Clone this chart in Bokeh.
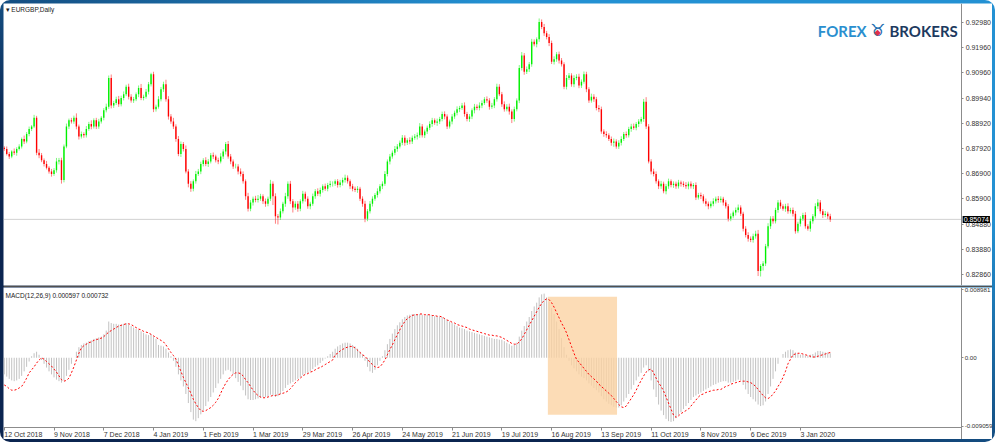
from bokeh.plotting import figure
from bokeh.layouts import column
from bokeh.models import (ColumnDataSource, FixedTicker, Range1d, Label,
                          BoxAnnotation, CustomJSTickFormatter)
from bokeh.embed import file_html
from bokeh.resources import INLINE

# ---------------- data (prices in 1e-4 units, MACD in 1e-4 units) ----------------
pair_title = "EURGBP,Daily"
macd_title = "MACD(12,26,9) 0.000597 0.000732"
first_open = 8795

close_pips = [
    8790, 8770, 8760, 8780, 8775, 8790, 8800, 8830, 8820, 8850, 8870, 8880, 8915, 8775,
    8765, 8745, 8730, 8715, 8700, 8690, 8705, 8740, 8745, 8665,
    8800, 8880, 8905, 8900, 8915, 8880, 8840,
    8850, 8845, 8870, 8890, 8880, 8905, 8880, 8900,
    8915, 8945, 8960, 9075, 8965,
    8975, 8990, 8970, 8995, 9010,
    9040, 9000, 8985, 8990, 9010,
    9035, 8995, 9000, 9020, 9050,
    9090, 8950, 8960,
    8990, 9030, 9050, 8990, 8920, 8900, 8880,
    8830, 8770, 8810, 8790, 8700, 8650, 8630,
    8660, 8690, 8700, 8730, 8745, 8730, 8740,
    8765, 8760, 8745, 8740, 8760, 8780, 8810, 8760, 8740, 8720,
    8720, 8700, 8690, 8660, 8600, 8550,
    8575, 8590, 8585, 8590, 8600, 8580, 8570, 8590,
    8650, 8600, 8520, 8515, 8540, 8570,
    8600, 8650, 8580, 8555, 8570, 8550,
    8580, 8610, 8590, 8560,
    8570, 8600, 8620, 8610, 8625, 8640, 8630, 8645, 8650,
    8650, 8660, 8645, 8655, 8665, 8675, 8660,
    8640, 8630, 8625, 8630, 8590, 8570, 8510,
    8540, 8570, 8590, 8605, 8620, 8640, 8650, 8690, 8740, 8760, 8775, 8790, 8800, 8815,
    8835, 8815, 8825, 8820, 8835, 8840, 8845, 8880, 8845, 8860, 8875, 8890,
    8905, 8895, 8900, 8910, 8930, 8920, 8880,
    8900, 8920, 8935, 8950, 8955, 8965, 8930, 8910, 8920,
    8945, 8960, 8955, 8965, 8975, 8990, 8985, 8960, 8965, 8990, 9040,
    9010, 8970, 8950, 8960, 8940, 8910, 8950, 8985,
    9115, 9165, 9100, 9110, 9130, 9220, 9210, 9230, 9300,
    9280, 9255, 9240, 9215, 9140, 9150, 9170, 9145, 9130, 9040,
    9075, 9085, 9050, 9075, 9080, 9045, 9060, 9090, 9030, 8985,
    9000, 8990, 8955, 8950, 8860, 8850, 8845, 8830, 8815, 8820, 8800, 8815,
    8830, 8850, 8845, 8870, 8880, 8875, 8890, 8900, 8910, 8980,
    8880, 8740, 8700, 8690, 8660, 8640,
    8650, 8620, 8640, 8660, 8645, 8650, 8640, 8655, 8650, 8645, 8640, 8650, 8640, 8645,
    8595, 8605, 8600, 8580, 8570, 8560, 8570, 8580, 8590, 8585, 8590, 8575,
    8560, 8510, 8520, 8535, 8545, 8555, 8530, 8470,
    8445, 8430, 8425, 8440, 8450, 8300, 8320, 8330, 8400, 8480, 8510, 8500, 8545, 8575,
    8560, 8550, 8560, 8540, 8545, 8530, 8460, 8490, 8510, 8525,
    8480, 8470, 8500, 8520, 8560, 8575, 8540, 8525, 8530, 8520, 8507,
]

wick_up = [
    6, 10, 8, 5, 12, 7, 9, 6, 14, 8, 10, 6, 12, 8, 15, 9, 7, 12, 6, 10,
    8, 14, 9, 10, 8, 12, 7, 10, 9, 18, 8, 10, 7, 12, 9, 15, 8, 10, 11, 7,
    9, 12, 10, 14, 8, 10, 13, 9, 11, 8, 12, 10, 9, 7, 10, 16, 8, 11, 9, 6,
    10, 8, 12, 9, 10, 18, 12, 10, 15, 9, 12, 10, 8, 14, 9, 11, 8, 12, 10, 9,
    8, 12, 10, 9, 11, 7, 10, 13, 9, 8, 12, 10, 8, 11, 9, 12, 10, 8, 14, 10,
    9, 12, 15, 10, 8, 11, 9, 16, 10, 12, 9, 11, 8, 14, 10, 12, 9, 10, 11, 8,
    12, 9, 10, 8, 11, 9, 12, 10, 8, 11, 9, 12, 10, 8, 9, 11, 10, 12, 9, 8,
    10, 9, 11, 8, 10, 12, 9, 11, 10, 8, 12, 9, 10, 11, 8, 10, 9, 12, 10, 9,
    11, 10, 8, 12, 9, 10, 11, 14, 10, 8, 9, 11, 10, 8, 12, 9, 10, 11, 9, 8,
    10, 9, 11, 8, 10, 12, 9, 10, 8, 11, 9, 12, 10, 8, 11, 9, 10, 8, 12, 10,
    9, 11, 10, 12, 9, 10, 8, 12, 14, 10, 11, 9, 12, 10, 8, 14, 10, 12, 9, 11,
    10, 12, 9, 11, 10, 8, 12, 10, 9, 11, 10, 12, 9, 11, 10, 8, 12, 10, 9, 11,
    10, 9, 11, 8, 10, 12, 9, 10, 11, 8, 10, 9, 11, 12, 8, 10, 9, 11, 18, 10,
    9, 11, 10, 8, 12, 9, 10, 11, 8, 10, 9, 11, 8, 10, 12, 9, 10, 8, 11, 9,
    10, 8, 11, 9, 10, 12, 9, 11, 10, 8, 10, 9, 11, 8, 10, 12, 9, 8, 10, 11,
    9, 10, 12, 15, 8, 10, 9, 12, 10, 11, 9, 10, 11, 8, 10, 12, 9, 10, 11, 8,
    10, 9, 11, 8, 10, 9, 12, 14, 10, 9, 11, 8, 10,
]

wick_dn = [
    8, 6, 10, 7, 9, 12, 6, 8, 10, 7, 9, 8, 6, 10, 12, 8, 10, 7, 9, 11,
    8, 10, 12, 14, 9, 7, 10, 8, 9, 11, 12, 8, 10, 9, 7, 11, 8, 10, 9, 8,
    10, 8, 9, 12, 10, 8, 11, 9, 10, 8, 11, 9, 10, 8, 12, 9, 10, 8, 11, 9,
    12, 10, 8, 9, 11, 10, 12, 9, 10, 11, 9, 12, 10, 8, 14, 12, 10, 9, 8, 11,
    10, 9, 12, 8, 10, 9, 11, 8, 10, 12, 9, 11, 10, 8, 12, 10, 9, 14, 11, 10,
    12, 9, 10, 8, 11, 12, 10, 9, 35, 30, 28, 10, 9, 12, 10, 11, 20, 9, 12, 10,
    9, 11, 10, 12, 8, 10, 9, 11, 10, 8, 10, 9, 11, 8, 10, 9, 12, 10, 9, 11,
    10, 8, 11, 9, 12, 14, 10, 9, 11, 8, 10, 9, 11, 8, 10, 12, 9, 10, 11, 8,
    10, 12, 9, 11, 10, 8, 12, 10, 9, 11, 10, 9, 11, 8, 12, 10, 9, 11, 10, 8,
    11, 9, 10, 12, 8, 10, 9, 11, 10, 12, 9, 10, 11, 8, 10, 12, 9, 11, 10, 8,
    11, 10, 9, 12, 16, 10, 9, 11, 10, 12, 9, 11, 10, 8, 12, 10, 9, 11, 10, 12,
    9, 11, 10, 12, 9, 10, 11, 8, 10, 12, 9, 11, 10, 8, 12, 10, 9, 11, 10, 12,
    9, 11, 10, 8, 12, 16, 9, 10, 11, 8, 10, 9, 11, 8, 10, 12, 9, 11, 10, 8,
    12, 10, 9, 11, 10, 8, 12, 10, 9, 11, 10, 9, 11, 8, 10, 12, 9, 11, 10, 8,
    11, 9, 10, 12, 8, 10, 9, 11, 10, 12, 9, 11, 10, 8, 12, 10, 9, 11, 10, 12,
    9, 11, 10, 20, 22, 18, 10, 9, 11, 10, 9, 11, 10, 8, 12, 10, 9, 11, 10, 8,
    11, 9, 10, 8, 12, 10, 9, 11, 10, 12, 9, 11, 10,
]

macd_main = [
    -22, -25, -28, -30, -31, -30, -28, -24, -18, -12, -5, 2,
    6, 8, 4,
    -3, -8, -13, -18, -22, -26, -29, -31, -33, -30, -24, -16,
    -8, 0, 8, 14, 17,
    19, 20, 22, 23, 25, 26, 27, 28, 31, 36, 48,
    46, 45, 45, 44, 44, 45, 46, 44,
    42, 40, 38, 37, 35, 33, 31, 30, 31, 28, 25, 17, 16, 15, 12, 7,
    2, -4, -12, -22, -30, -38, -48, -60, -72, -82,
    -84, -80, -75, -70,
    -64, -58, -52, -46, -40, -34, -28, -22, -17, -16,
    -18, -22, -27, -32, -37, -43, -50, -55, -56,
    -56, -55, -54, -53, -52, -52, -51, -49, -50, -52, -51, -48, -44, -40,
    -36, -34, -32, -30, -28, -26, -23, -21, -20, -18, -15, -12, -10, -7, -4, -1, 2, 5, 8,
    12, 15, 17, 19, 20, 20, 19, 17, 15, 12, 8, 4, -4,
    -12, -18, -20, -16, -10, -4, 2, 10, 18, 25,
    32, 38, 43, 47, 51, 54, 56, 57,
    58, 58, 57, 58, 57, 56, 57, 57, 56, 55, 55, 54, 54,
    52, 50, 48, 46, 44, 42, 40, 39, 38, 36, 35, 34, 33, 32, 31, 30, 29, 28, 27, 26, 25, 25, 24,
    24, 22, 20, 18, 16, 17, 20, 28,
    36, 42, 48, 54, 62, 68, 73, 80, 84, 85,
    80, 74, 66, 58, 48, 38, 26, 14, 4,
    -4, -10, -14, -18, -22, -25, -27, -30, -34, -37, -40, -43, -46, -51, -55, -58, -61, -63, -65, -66, -66,
    -63, -58, -53, -48, -42, -36, -30, -25, -20, -13, -10,
    -18, -30, -42, -52, -62,
    -70, -76, -81, -84, -85, -84,
    -80, -76, -72, -68, -64, -60, -56, -52, -50, -48, -46,
    -44, -42, -40, -38, -36, -35, -33, -32, -31, -31, -33, -33, -32, -31, -29, -30,
    -36, -42, -48, -52, -55, -58, -62, -64, -63,
    -58, -48, -38, -28, -18, -8, 0,
    5, 8, 10, 11,
    10, 7, 5, 4, 4, 3, 3, 4, 5,
    7, 9, 9, 8, 7, 7, 6,
]

macd_signal = [
    -36, -38, -41, -43, -43, -42, -40, -38, -33, -27,
    -20, -16, -12, -7, -3, 0, -2, -5, -8, -11,
    -15, -19, -24, -29, -31, -30, -27, -20, -12, -3,
    6, 13, 16, 18, 20, 21, 23, 24, 25, 26,
    28, 31, 34, 36, 38, 40, 42, 43, 44, 45,
    45, 44, 42, 40, 38, 37, 35, 34, 33, 31,
    29, 27, 25, 23, 21, 17, 12, 7, 3, -2,
    -10, -18, -26, -33, -40, -47, -55, -61, -66, -70,
    -71, -70, -68, -66, -63, -59, -54, -47, -40, -34,
    -29, -25, -22, -20, -20, -21, -24, -29, -33, -38,
    -43, -47, -50, -52, -53, -53, -52, -51, -50, -50,
    -49, -48, -47, -46, -44, -41, -37, -33, -30, -27,
    -24, -22, -21, -19, -18, -16, -14, -13, -11, -9,
    -7, -5, -3,
    4, 6, 9, 11, 13, 14, 15,
    15, 13, 10, 7, 4, 2, -2, -6, -9, -12,
    -13, -12, -8, -3, 4, 11, 17, 24, 31, 37,
    43, 48, 52, 54, 56, 57, 57, 58, 58, 57,
    57, 57, 56, 56, 55, 55, 54, 52, 50, 49,
    47, 46, 44, 43, 42, 41, 40, 38, 37, 36,
    35, 34, 33, 32, 31, 30, 30, 29, 29, 28,
    27, 25, 23, 21, 19, 18, 18, 21, 25, 31,
    37, 43, 49, 55, 61, 67, 72, 76, 78, 77,
    73, 67, 60, 53, 46, 40, 33, 24, 15, 6,
    -2, -6, -10, -14, -18, -22, -25, -28, -31, -35,
    -38, -41, -44, -47, -50, -54, -58, -62, -65, -66,
    -64, -59, -54, -49, -43, -36, -30, -24, -19, -16,
    -15, -20, -27, -33, -38,
    -44, -52, -60, -68, -76,
    -79, -77, -74, -72, -70, -68, -64, -60, -56, -52,
    -49, -48, -46, -45, -44, -43, -43, -42, -42, -40,
    -38, -37, -35, -34, -33, -32, -31, -31, -31, -32,
    -33, -35, -38, -42, -46, -50, -53, -54, -52, -48,
    -44, -38, -33, -26, -18, -8, -2, 4, 5, 6,
    6, 5, 4, 3, 2, 1, 1, 2, 3, 4,
    5, 6, 7,
]

date_ticks = [0, 20, 40, 60, 80, 100, 120, 140, 160, 180, 200, 220, 240, 260, 280, 300, 320]
date_labels = ["12 Oct 2018", "9 Nov 2018", "7 Dec 2018", "4 Jan 2019", "1 Feb 2019",
               "1 Mar 2019", "29 Mar 2019", "26 Apr 2019", "24 May 2019", "21 Jun 2019",
               "19 Jul 2019", "16 Aug 2019", "13 Sep 2019", "11 Oct 2019", "8 Nov 2019",
               "6 Dec 2019", "3 Jan 2020"]
price_ticks = [0.92980, 0.91960, 0.90960, 0.89940, 0.88920, 0.87920,
               0.86900, 0.85900, 0.84880, 0.83880, 0.82860]
macd_ticks = [0.008981, 0.0, -0.009059]
last_price = 0.85074
highlight_left = [218.5]
highlight_right = [246.3]
highlight_top = [0.0081]
highlight_bottom = [-0.00755]

# ---------------- derived table ----------------
PIP = 1e-4
n = len(close_pips)
idx = list(range(n))
close = [c * PIP for c in close_pips]
opn = [first_open * PIP] + close[:-1]
high = [max(o, c) + u * PIP for o, c, u in zip(opn, close, wick_up)]
low = [min(o, c) - d * PIP for o, c, d in zip(opn, close, wick_dn)]
top = [max(o, c) for o, c in zip(opn, close)]
bot = [min(o, c) for o, c in zip(opn, close)]
col = ["#00f000" if c >= o else "#ff0000" for o, c in zip(opn, close)]
src = ColumnDataSource(dict(x=idx, high=high, low=low, top=top, bot=bot, color=col))
msrc = ColumnDataSource(dict(x=idx, main=[m * PIP for m in macd_main],
                             sig=[s * PIP for s in macd_signal], zero=[0.0] * n))
hsrc = ColumnDataSource(dict(left=highlight_left, right=highlight_right,
                             top=highlight_top, bottom=highlight_bottom))

FONT = "Liberation Sans"
W = 989
PX_PER_BAR = 2.488
X0 = -0.3                      # left edge of the chart area
X1 = 384.8                     # where the price scale sits
XF = X0 + W / PX_PER_BAR       # right edge of the canvas
x_range = Range1d(X0, XF)
P_LO, P_HI = 0.8242, 0.9374
M_LO, M_HI = -0.00924, 0.00931
M_STRIP = (M_HI - M_LO) / 140 * 12   # room for the date labels under the MACD pane


def style_axis(ax, size="7px", standoff=2):
    ax.axis_line_color = "#8c8c8c"
    ax.major_tick_line_color = "#8c8c8c"
    ax.major_tick_out = 2
    ax.major_tick_in = 0
    ax.minor_tick_line_color = None
    ax.major_label_standoff = standoff
    ax.major_label_text_font = FONT
    ax.major_label_text_font_size = size
    ax.major_label_text_color = "#333333"


# ---------------- price panel ----------------
p1 = figure(width=W, height=284, x_range=x_range, y_range=Range1d(P_LO, P_HI),
            x_axis_location=None, y_axis_location="right", output_backend="svg",
            toolbar_location=None, min_border_left=0, min_border_top=0,
            min_border_bottom=2, min_border_right=0, border_fill_color="#505050")
p1.grid.visible = False
p1.outline_line_color = None
ya = p1.yaxis[0]
ya.fixed_location = X1
ya.ticker = FixedTicker(ticks=price_ticks)
ya.formatter = CustomJSTickFormatter(code="return tick.toFixed(5);")
style_axis(ya)

p1.add_layout(BoxAnnotation(left=X0, right=X1, top=last_price, bottom=last_price,
                            fill_alpha=0, line_color="#a8a8a8", line_width=1,
                            level="underlay"))
p1.segment(x0="x", y0="low", x1="x", y1="high", color="color", line_alpha=0.5,
           line_width=1, source=src)
p1.vbar(x="x", top="top", bottom="bot", width=0.55, fill_color="color",
        line_color=None, source=src)

p1.add_layout(Label(x=X0, y=P_HI, x_offset=2, y_offset=-2, text="\u25be " + pair_title,
                    text_font=FONT, text_font_size="6.5px", text_color="#222222",
                    text_baseline="top"))
p1.add_layout(Label(x=X1, y=last_price, x_offset=1, text=f"{last_price:.5f}",
                    text_font=FONT, text_font_size="7px", text_color="white",
                    background_fill_color="black", text_baseline="middle", padding=1))
# logo
p1.add_layout(Label(x=346.6, y=0.92621, text="FOREX", text_font="Lato",
                    text_font_style="bold", text_font_size="15px", text_color="#2a8fcf",
                    text_align="right", text_baseline="middle"))
p1.add_layout(Label(x=351.0, y=0.92660, text="\u2649", text_font="DejaVu Sans",
                    text_font_style="bold", text_font_size="17px", text_color="#1f6fb0",
                    text_align="center", text_baseline="middle"))
p1.add_layout(Label(x=351.0, y=0.92560, text="\u25c6", text_font="DejaVu Sans",
                    text_font_size="8px", text_color="#e0304a", text_align="center",
                    text_baseline="middle"))
p1.add_layout(Label(x=355.8, y=0.92621, text="BROKERS", text_font="Lato",
                    text_font_style="bold", text_font_size="15px", text_color="#1d3a60",
                    text_align="left", text_baseline="middle"))

# ---------------- MACD panel ----------------
p2 = figure(width=W, height=152, x_range=x_range, y_range=Range1d(M_LO - M_STRIP, M_HI),
            y_axis_location="right", output_backend="svg", toolbar_location=None,
            min_border_left=0, min_border_top=0, min_border_bottom=0, min_border_right=0)
p2.grid.visible = False
p2.outline_line_color = None
ya2 = p2.yaxis[0]
ya2.fixed_location = X1
ya2.ticker = FixedTicker(ticks=macd_ticks)
ya2.formatter = CustomJSTickFormatter(code="return tick === 0 ? '0.00' : tick.toFixed(6);")
style_axis(ya2, "6.2px", 1)
xa = p2.xaxis[0]
xa.fixed_location = M_LO
xa.ticker = FixedTicker(ticks=date_ticks)
xa.formatter = CustomJSTickFormatter(code="return '';")
style_axis(xa)
xa.major_tick_out = 3
xa.bounds = (X0, X1)

p2.segment(x0="x", y0="zero", x1="x", y1="main", color="#c2c2c2", line_width=1, source=msrc)
p2.quad(left="left", right="right", top="top", bottom="bottom", fill_color="#fbd2a2",
        fill_alpha=0.78, line_color=None, source=hsrc)
p2.line(x="x", y="sig", color="#ff0000", line_width=1, line_dash="2 2", source=msrc)

for t, lab in zip(date_ticks, date_labels):
    p2.add_layout(Label(x=t, y=M_LO, x_offset=0, y_offset=-3, text=lab,
                        text_font=FONT, text_font_size="7px", text_color="#333333",
                        text_align="left", text_baseline="top"))
p2.add_layout(Label(x=X0, y=M_HI, x_offset=2, y_offset=-4, text=macd_title,
                    text_font=FONT, text_font_size="6.5px", text_color="#222222",
                    text_baseline="top"))

layout = column(p1, p2, spacing=0,
                styles={"padding": "3px", "border-radius": "10px",
                        "background": "linear-gradient(to top right, #0b2550 35%, #2391d3 75%)"})

open("out.html", "w").write(file_html(layout, INLINE, title="EURGBP Daily MACD"))
